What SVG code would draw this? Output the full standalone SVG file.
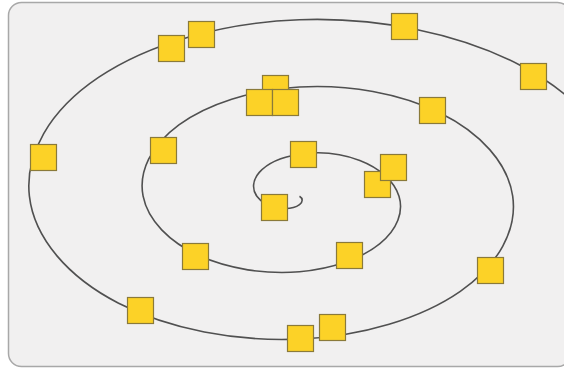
<svg xmlns="http://www.w3.org/2000/svg" width="564" height="368" viewBox="0 0 564 368">
<style>
.panel{fill:#f1f0f0;stroke:#a8a8a8;stroke-width:1.5}
.node rect{fill:#fcd227;stroke:#8a7a3a;stroke-width:1.2}
.spiral{fill:none;stroke:#505050;stroke-width:1.6}
</style>
<rect class="panel" x="8.5" y="2.5" width="562" height="364" rx="13" ry="13"/>
<g id="connectors">
<path class="spiral" d="M299.5,196.2 C302.85,198.18 303.22,201.8 299.5,204.6 C295.78,207.4 288.02,209.23 279.4,208.1 C270.78,206.97 261.59,202.8 256.85,196.2 C252.11,189.6 252.12,180.6 259.3,172.4 C266.48,164.2 280.89,157 299.5,154.2 C318.11,151.4 340.66,153.15 359.8,160.5 C378.94,167.85 394.26,180.8 399,196.2 C403.74,211.6 397.6,229.27 379.9,243.7 C362.2,258.13 333,269 299.5,271.8 C266,274.6 228.67,269.18 199,255.6 C169.33,242.02 147.84,220.4 143.1,196.2 C138.36,172 150.67,145.55 178.9,124.9 C207.13,104.25 251.11,89.75 299.5,86.95 C347.89,84.15 400,93.2 440.2,113 C480.4,132.8 507.96,163.2 512.7,196.2 C517.44,229.2 499.06,264.43 460.3,291.3 C421.54,318.17 362.77,336.3 299.5,339.1 C236.23,341.9 169.32,329.22 118.6,303.2 C67.88,277.18 34.14,238 29.4,196.2 C24.66,154.4 49.21,110.49 98.5,77.4 C147.79,44.31 221.34,22.5 299.5,19.7 C377.66,16.9 459.35,33.26 520.6,65.5 C581.85,97.74 621.76,145.6 626.5,196.2"/>
</g>
<g id="n1" class="node"><rect x="158.5" y="35.5" width="26" height="26"/></g>
<g id="n2" class="node"><rect x="188.5" y="21.5" width="26" height="26"/></g>
<g id="n3" class="node"><rect x="391.5" y="13.5" width="26" height="26"/></g>
<g id="n4" class="node"><rect x="520.5" y="63.5" width="26" height="26"/></g>
<g id="n5" class="node"><rect x="30.5" y="144.5" width="26" height="26"/></g>
<g id="n6" class="node"><rect x="150.5" y="137.5" width="26" height="26"/></g>
<g id="n7" class="node"><rect x="262.5" y="75.5" width="26" height="26"/></g>
<g id="n8" class="node"><rect x="246.5" y="89.5" width="26" height="26"/></g>
<g id="n9" class="node"><rect x="272.5" y="89.5" width="26" height="26"/></g>
<g id="n10" class="node"><rect x="419.5" y="97.5" width="26" height="26"/></g>
<g id="n11" class="node"><rect x="290.5" y="141.5" width="26" height="26"/></g>
<g id="n12" class="node"><rect x="364.5" y="171.5" width="26" height="26"/></g>
<g id="n13" class="node"><rect x="380.5" y="154.5" width="26" height="26"/></g>
<g id="n14" class="node"><rect x="261.5" y="194.5" width="26" height="26"/></g>
<g id="n15" class="node"><rect x="182.5" y="243.5" width="26" height="26"/></g>
<g id="n16" class="node"><rect x="336.5" y="242.5" width="26" height="26"/></g>
<g id="n17" class="node"><rect x="477.5" y="257.5" width="26" height="26"/></g>
<g id="n18" class="node"><rect x="127.5" y="297.5" width="26" height="26"/></g>
<g id="n19" class="node"><rect x="287.5" y="325.5" width="26" height="26"/></g>
<g id="n20" class="node"><rect x="319.5" y="314.5" width="26" height="26"/></g>
</svg>
